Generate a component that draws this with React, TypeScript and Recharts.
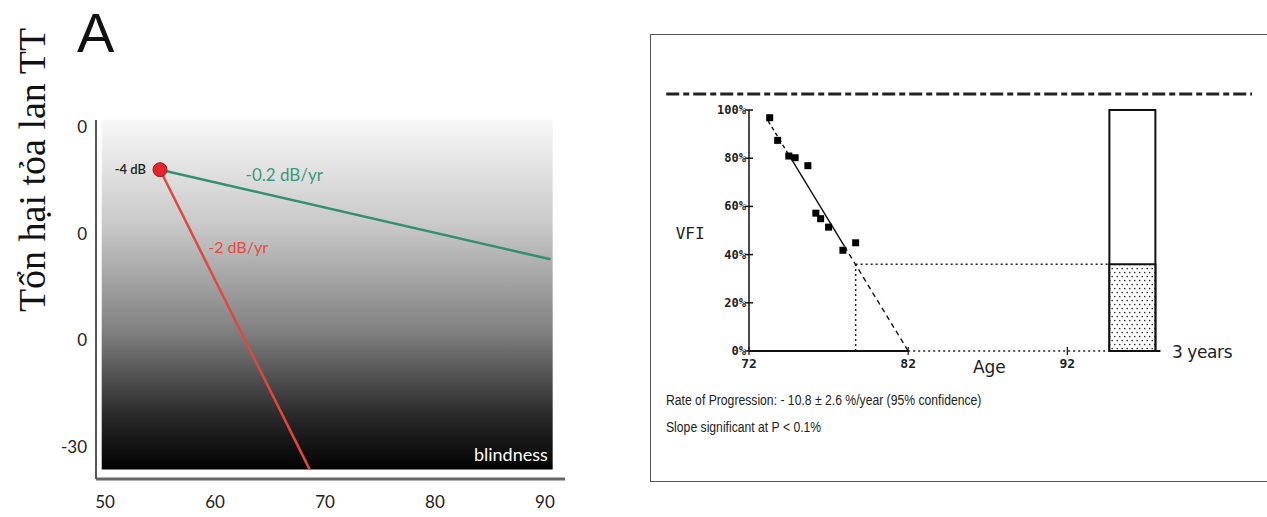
import {
  ComposedChart,
  Line,
  Scatter,
  XAxis,
  YAxis,
  ReferenceArea,
  ReferenceLine,
  ReferenceDot,
} from 'recharts';

// ---- Panel A: field loss (dB) against age ----
const A_AGE_TICKS = [50, 60, 70, 80, 90];
const A_DB_TICKS = [0, -10, -20, -30];
// the left half of the middle labels is cut off in the source figure
const A_DB_TICK_LABELS = ['0', '0', '0', '-30'];
const START = { age: 55, db: -4 };
const SLOW_END = { age: 90.5, db: -12.4 };
const FAST_END = { age: 68.6, db: -32.1 };
const FIELD_AGES = [49.7, 90.7];
const FIELD_DB = [-32.1, 0.7];

// ---- Panel B: VFI trend ----
const VISIT_AGES = [73.3, 73.8, 74.5, 74.9, 75.7, 76.2, 76.5, 77.0, 77.9, 78.7];
const VISIT_VFI = [96.8, 87.4, 80.9, 80.2, 76.9, 57.2, 54.9, 51.4, 41.8, 44.9];
const FIT_AGES = [73.2, 74.6, 78.0, 82];
const FIT_VFI = [95.5, 80.3, 43.4, 0];
const PROJ_AGE = 78.7;
const PROJ_VFI = 36;
const B_VFI_TICKS = [0, 20, 40, 60, 80, 100];
const B_AGE_TICKS = [72, 82, 92];
const BAR_AGES = [94.64, 97.53];
const BAR_VFI = [100, 36];
const BAR_BASE_END = 97.85;
const TARGET_VFI = 106.6;
const TARGET_AGES = [66.8, 103.6];

const slowLine = [
  { age: START.age, db: START.db },
  { age: SLOW_END.age, db: SLOW_END.db },
];
const fastLine = [
  { age: START.age, db: START.db },
  { age: FAST_END.age, db: FAST_END.db },
];
const visits = VISIT_AGES.map((age, i) => ({ age, vfi: VISIT_VFI[i] }));
const fit = FIT_AGES.map((age, i) => ({ age, vfi: FIT_VFI[i] }));

const MONO = '"DejaVu Sans Mono", monospace';
const SANS_A = 'Lato, "Open Sans", sans-serif';

function VfiTick(props: any) {
  const { x, y, payload } = props;
  return (
    <g>
      <line x1={x - 4} x2={x + 4} y1={y} y2={y} stroke="#111" strokeWidth={1.5} />
      <text
        x={x - 3}
        y={y}
        dy={4}
        textAnchor="end"
        fontFamily={MONO}
        fontSize={12}
        fontWeight="bold"
        fill="#222"
      >
        {payload.value}%
      </text>
    </g>
  );
}

function AgeTick(props: any) {
  const { x, y, payload } = props;
  return (
    <g>
      <line x1={x} x2={x} y1={y - 4} y2={y + 4} stroke="#111" strokeWidth={1.2} />
      <text
        x={x}
        y={y}
        dy={17}
        textAnchor="middle"
        fontFamily={MONO}
        fontSize={13}
        fontWeight="bold"
        fill="#222"
      >
        {payload.value}
      </text>
    </g>
  );
}

function Square(props: any) {
  return <rect x={props.cx - 3.5} y={props.cy - 3.5} width={7} height={7} fill="#000" />;
}

function PanelA() {
  return (
    <ComposedChart width={600} height={517} margin={{ top: 120, right: 35, bottom: 8, left: 56 }}>
      <defs>
        <linearGradient id="field-fade" x1="0" y1="0" x2="0" y2="1">
          <stop offset="0%" stopColor="#f8f8f8" />
          <stop offset="30%" stopColor="#c9c9c9" />
          <stop offset="60%" stopColor="#828282" />
          <stop offset="85%" stopColor="#282828" />
          <stop offset="100%" stopColor="#020202" />
        </linearGradient>
      </defs>
      <XAxis
        type="number"
        dataKey="age"
        domain={[49.18, 91.82]}
        allowDataOverflow
        ticks={A_AGE_TICKS}
        interval={0}
        height={30}
        tickSize={0}
        tickMargin={17}
        tickLine={false}
        axisLine={{ stroke: '#666', strokeWidth: 3 }}
        tick={{ fill: '#222', fontSize: 17, fontFamily: SANS_A }}
      />
      <YAxis
        type="number"
        dataKey="db"
        domain={[-33.0, 0.66]}
        allowDataOverflow
        ticks={A_DB_TICKS}
        interval={0}
        width={40}
        tickSize={0}
        tickMargin={9}
        tickLine={false}
        axisLine={{ stroke: '#555', strokeWidth: 2 }}
        tickFormatter={(v: number) => A_DB_TICK_LABELS[A_DB_TICKS.indexOf(v)]}
        tick={{ fill: '#222', fontSize: 17, fontFamily: SANS_A }}
      />
      <ReferenceArea
        x1={FIELD_AGES[0]}
        x2={FIELD_AGES[1]}
        y1={FIELD_DB[0]}
        y2={FIELD_DB[1]}
        fill="url(#field-fade)"
        fillOpacity={1}
        stroke="none"
        ifOverflow="visible"
      />
      <Line
        data={slowLine}
        dataKey="db"
        type="linear"
        stroke="#33906f"
        strokeWidth={2.5}
        dot={false}
        isAnimationActive={false}
      />
      <Line
        data={fastLine}
        dataKey="db"
        type="linear"
        stroke="#e3473b"
        strokeWidth={2.5}
        dot={false}
        isAnimationActive={false}
      />
      <ReferenceDot
        x={START.age}
        y={START.db}
        r={7}
        fill="#e4252b"
        stroke="#a51b1b"
        strokeWidth={1}
        label={{ value: '-4 dB', position: 'left', offset: 7, fill: '#222', fontSize: 13, fontWeight: 600, fontFamily: SANS_A }}
      />
      <ReferenceDot
        x={66.3}
        y={-4.5}
        r={0}
        fill="none"
        stroke="none"
        label={{ value: '-0.2 dB/yr', position: 'center', fill: '#3b9a7a', fontSize: 17, fontFamily: SANS_A }}
      />
      <ReferenceDot
        x={62.1}
        y={-11.25}
        r={0}
        fill="none"
        stroke="none"
        label={{ value: '-2 dB/yr', position: 'center', fill: '#e8493d', fontSize: 16, fontFamily: SANS_A }}
      />
      <ReferenceDot
        x={86.9}
        y={-30.7}
        r={0}
        fill="none"
        stroke="none"
        label={{ value: 'blindness', position: 'center', fill: '#fff', fontSize: 18, fontFamily: SANS_A }}
      />
    </ComposedChart>
  );
}

function PanelB() {
  return (
    <ComposedChart width={616} height={446} margin={{ top: 75, right: 15, bottom: 110, left: 8 }}>
      <defs>
        <pattern id="stipple" width={5} height={8} patternUnits="userSpaceOnUse">
          <rect width={5} height={8} fill="#fff" />
          <circle cx={1.2} cy={1.5} r={0.85} fill="#333" />
          <circle cx={3.7} cy={5.5} r={0.85} fill="#333" />
        </pattern>
      </defs>
      <XAxis
        type="number"
        dataKey="age"
        domain={[72, 103.6]}
        allowDataOverflow
        ticks={B_AGE_TICKS}
        interval={0}
        height={20}
        tickSize={0}
        tickMargin={0}
        tickLine={false}
        axisLine={false}
        tick={<AgeTick />}
      />
      <YAxis
        type="number"
        dataKey="vfi"
        domain={[0, 100]}
        allowDataOverflow
        ticks={B_VFI_TICKS}
        interval={0}
        width={90}
        tickSize={0}
        tickMargin={0}
        tickLine={false}
        axisLine={{ stroke: '#111', strokeWidth: 1.5 }}
        tick={<VfiTick />}
      />
      <ReferenceLine
        segment={[{ x: TARGET_AGES[0], y: TARGET_VFI }, { x: TARGET_AGES[1], y: TARGET_VFI }]}
        stroke="#222"
        strokeWidth={3}
        strokeDasharray="13 4 6 4"
        ifOverflow="visible"
      />
      <ReferenceLine
        segment={[{ x: 72, y: 0 }, { x: 82, y: 0 }]}
        stroke="#111"
        strokeWidth={2}
        ifOverflow="visible"
      />
      <ReferenceLine
        segment={[{ x: 82, y: 0 }, { x: BAR_AGES[0], y: 0 }]}
        stroke="#222"
        strokeWidth={1.5}
        strokeDasharray="2 3"
        ifOverflow="visible"
      />
      <ReferenceLine
        segment={[{ x: PROJ_AGE, y: PROJ_VFI }, { x: BAR_AGES[0], y: PROJ_VFI }]}
        stroke="#222"
        strokeWidth={1.5}
        strokeDasharray="2 3"
        ifOverflow="visible"
      />
      <ReferenceLine
        segment={[{ x: PROJ_AGE, y: 0 }, { x: PROJ_AGE, y: PROJ_VFI }]}
        stroke="#222"
        strokeWidth={1.5}
        strokeDasharray="2 3"
        ifOverflow="visible"
      />
      <ReferenceArea
        x1={BAR_AGES[0]}
        x2={BAR_AGES[1]}
        y1={0}
        y2={BAR_VFI[0]}
        fill="#fff"
        fillOpacity={1}
        stroke="#111"
        strokeWidth={2}
        ifOverflow="visible"
      />
      <ReferenceArea
        x1={BAR_AGES[0]}
        x2={BAR_AGES[1]}
        y1={0}
        y2={BAR_VFI[1]}
        fill="url(#stipple)"
        fillOpacity={1}
        stroke="#111"
        strokeWidth={2}
        ifOverflow="visible"
      />
      <ReferenceLine
        segment={[{ x: BAR_AGES[0], y: 0 }, { x: BAR_BASE_END, y: 0 }]}
        stroke="#111"
        strokeWidth={2}
        ifOverflow="visible"
      />
      <Line
        data={fit.slice(0, 2)}
        dataKey="vfi"
        type="linear"
        stroke="#111"
        strokeWidth={1.4}
        strokeDasharray="4 3"
        dot={false}
        isAnimationActive={false}
      />
      <Line
        data={fit.slice(1, 3)}
        dataKey="vfi"
        type="linear"
        stroke="#111"
        strokeWidth={1.4}
        dot={false}
        isAnimationActive={false}
      />
      <Line
        data={fit.slice(2, 4)}
        dataKey="vfi"
        type="linear"
        stroke="#111"
        strokeWidth={1.4}
        strokeDasharray="5 4"
        dot={false}
        isAnimationActive={false}
      />
      <Scatter data={visits} dataKey="vfi" shape={<Square />} isAnimationActive={false} />
      <ReferenceDot
        x={68.3}
        y={49}
        r={0}
        fill="none"
        stroke="none"
        ifOverflow="visible"
        label={{ value: 'VFI', position: 'center', fill: '#222', fontSize: 16, fontFamily: MONO }}
      />
      <ReferenceDot
        x={87.1}
        y={-6.6}
        r={0}
        fill="none"
        stroke="none"
        ifOverflow="visible"
        label={{ value: 'Age', position: 'center', fill: '#222', fontSize: 17, fontFamily: '"DejaVu Sans", sans-serif' }}
      />
      <ReferenceDot
        x={100.46}
        y={-0.4}
        r={0}
        fill="none"
        stroke="none"
        ifOverflow="visible"
        label={{ value: '3 years', position: 'center', fill: '#222', fontSize: 17, fontFamily: '"DejaVu Sans", sans-serif', letterSpacing: -0.4 }}
      />
    </ComposedChart>
  );
}

const noteStyle: React.CSSProperties = {
  position: 'absolute',
  left: 15,
  whiteSpace: 'nowrap',
  fontFamily: '"Liberation Sans", Arial, sans-serif',
  fontSize: 14,
  color: '#222',
  transform: 'scaleX(0.87)',
  transformOrigin: 'left center',
  lineHeight: '16px',
};

export default function App() {
  return (
    <div
      style={{
        position: 'absolute',
        left: 0,
        top: 0,
        width: 1267,
        height: 517,
        overflow: 'hidden',
        background: '#fff',
      }}
    >
      <div style={{ position: 'absolute', left: 0, top: 0 }}>
        <PanelA />
      </div>

      <div
        style={{
          position: 'absolute',
          left: 650,
          top: 34,
          width: 640,
          height: 446,
          border: '1px solid #555',
          background: '#fff',
        }}
      >
        <PanelB />
        <div style={{ ...noteStyle, top: 357 }}>
          Rate of Progression: - 10.8 ± 2.6 %/year (95% confidence)
        </div>
        <div style={{ ...noteStyle, top: 384 }}>Slope significant at P &lt; 0.1%</div>
      </div>

      <svg
        width={1267}
        height={517}
        style={{ position: 'absolute', left: 0, top: 0, pointerEvents: 'none' }}
      >
        <text
          transform="translate(45,170) rotate(-90)"
          textAnchor="middle"
          fontFamily='"Liberation Serif", "Times New Roman", serif'
          fontSize={38}
          fill="#111"
        >
          Tổn hại tỏa lan TT
        </text>
        <text x={77} y={52} fontFamily='"Liberation Sans", Arial, sans-serif' fontSize={56} fill="#111">
          A
        </text>
      </svg>
    </div>
  );
}
